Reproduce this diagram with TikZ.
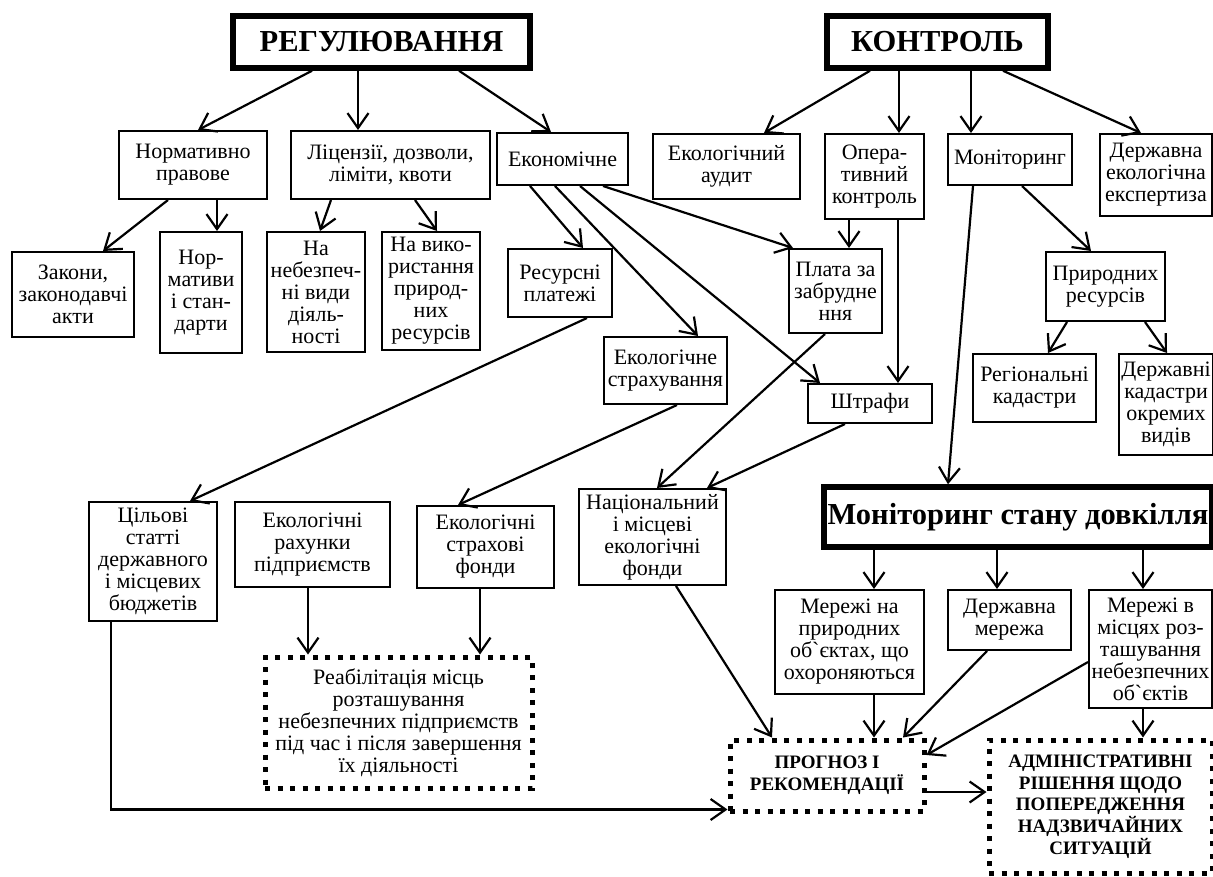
\documentclass[tikz,border=0pt]{standalone}
\usepackage{fontspec}
\setmainfont{Liberation Serif}
\usetikzlibrary{arrows.meta}
\newcommand{\boxfont}{\fontsize{22}{22}\selectfont}
\tikzset{
    box/.style={draw, line width=2pt, align=center, inner sep=2pt, font=\boxfont},
    titlebox/.style={draw, line width=5.5pt, align=center, inner sep=2pt, font=\fontsize{30.5}{32}\selectfont\bfseries},
    dotbox/.style={draw, line width=5pt, dash pattern=on 5pt off 7.5pt, align=center, inner sep=2pt, font=\boxfont},
    dotbold/.style={dotbox, font=\fontsize{19}{21.7}\selectfont\bfseries},
    arr/.style={line width=2.2pt, -{Straight Barb[length=15pt, width=21pt]}}
}

\begin{document}
\begin{tikzpicture}[x=1pt, y=-1pt]
    \useasboundingbox (0,0) rectangle (1213,876);

    % Main headings
    \node[titlebox, minimum width=297, minimum height=52] (reg) at (381.5,42) {РЕГУЛЮВАННЯ};
    \node[titlebox, minimum width=221, minimum height=52] (kontr) at (937.5,42) {КОНТРОЛЬ};

    % Second row
    \node[box, minimum width=148, minimum height=68] (norm) at (193,165) {Нормативно\\правове};
    \node[box, minimum width=199, minimum height=68] (lic) at (390.5,165) {Ліцензії, дозволи,\\ліміти, квоти};
    \node[box, minimum width=131, minimum height=52] (econ) at (562.5,159) {Економічне};
    \node[box, minimum width=147, minimum height=65] (audit) at (726.5,166.5) {Екологічний\\аудит};
    \node[box, minimum width=99, minimum height=85] (oper) at (874.5,176.5) {Опера-\\тивний\\контроль};
    \node[box, minimum width=124, minimum height=51] (monit) at (1010,159.5) {Моніторинг};
    \node[box, minimum width=112, minimum height=82] (expert) at (1156,175) {Державна\\екологічна\\експертиза};

    % Third row
    \node[box, minimum width=122, minimum height=85] (zakony) at (73,294.5) {Закони,\\законодавчі\\акти};
    \node[box, minimum width=82, minimum height=121] (normat) at (201,292.5) {Нор-\\мативи\\і стан-\\дарти};
    \node[box, minimum width=98, minimum height=120] (nebezp) at (316,292) {На\\небезпеч-\\ні види\\діяль-\\ності};
    \node[box, minimum width=98, minimum height=118] (vykor) at (431,291) {На вико-\\ристання\\природ-\\них\\ресурсів};
    \node[box, minimum width=104, minimum height=68] (resurs) at (560,283) {Ресурсні\\платежі};
    \node[box, minimum width=93, minimum height=84] (plata) at (835.5,291) {Плата за\\забрудне\\ння};
    \node[box, minimum width=119, minimum height=69] (pryrod) at (1105.5,286.5) {Природних\\ресурсів};
    \node[box, minimum width=123, minimum height=67] (strakh) at (665.5,370.5) {Екологічне\\страхування};
    \node[box, minimum width=124, minimum height=39] (shtraf) at (870,403.5) {Штрафи};
    \node[box, minimum width=123, minimum height=68] (region) at (1034.5,388) {Регіональні\\кадастри};
    \node[box, minimum width=92, minimum height=101] (kadastr) at (1166,404.5) {Державні\\кадастри\\окремих\\видів};

    % Funds
    \node[box, minimum width=128, minimum height=119] (tsil) at (153,561.5) {Цільові\\статті\\державного\\і місцевих\\бюджетів};
    \node[box, minimum width=155, minimum height=85] (rakh) at (312.5,544.5) {Екологічні\\рахунки\\підприємств};
    \node[box, minimum width=137, minimum height=82] (fondy) at (485.5,547) {Екологічні\\страхові\\фонди};
    \node[box, minimum width=147, minimum height=96] (nats) at (652.5,537) {Національний\\і місцеві\\екологічні\\фонди};

    % Monitoring of the environment
    \node[titlebox, minimum width=388, minimum height=60] (stan) at (1018,517) {Моніторинг стану довкілля};
    \node[box, minimum width=149, minimum height=104] (merprir) at (849.5,642) {Мережі на\\природних\\об\textasciigrave єктах, що\\охороняються};
    \node[box, minimum width=123, minimum height=60] (dermer) at (1009.5,620) {Державна\\мережа};
    \node[box, minimum width=123, minimum height=118] (mermisc) at (1150.5,649) {Мережі в\\місцях роз-\\ташування\\небезпечних\\об\textasciigrave єктів};

    % Results (dotted)
    \node[dotbox, minimum width=267, minimum height=131] (reabil) at (398.5,722.5) {Реабілітація місць\\розташування\\небезпечних підприємств\\під час і після завершення\\їх діяльності};
    \node[dotbold, minimum width=194, minimum height=71] (prognoz) at (827,775.5) {ПРОГНОЗ І\\РЕКОМЕНДАЦІЇ};
    \node[dotbold, minimum width=223, minimum height=133] (admin) at (1100.5,806.5) {АДМІНІСТРАТИВНІ\\РІШЕННЯ ЩОДО\\ПОПЕРЕДЖЕННЯ\\НАДЗВИЧАЙНИХ\\СИТУАЦІЙ};

    % Arrows from РЕГУЛЮВАННЯ
    \draw[arr] ([xshift=-69.5]reg.south) -- ([xshift=5]norm.north);
    \draw[arr] ([xshift=-23.5]reg.south) -- ([xshift=-32.5]lic.north);
    \draw[arr] ([xshift=77.5]reg.south) -- ([xshift=-11.5]econ.north);

    % Arrows from КОНТРОЛЬ
    \draw[arr] ([xshift=-67.5]kontr.south) -- ([xshift=37.5]audit.north);
    \draw[arr] ([xshift=-38.5]kontr.south) -- ([xshift=24.5]oper.north);
    \draw[arr] ([xshift=33.5]kontr.south) -- ([xshift=-39]monit.north);
    \draw[arr] ([xshift=65.5]kontr.south) -- ([xshift=-15]expert.north);

    % Legal and licences
    \draw[arr] ([xshift=-25]norm.south) -- ([xshift=30]zakony.north);
    \draw[arr] ([xshift=24]norm.south) -- ([xshift=16]normat.north);
    \draw[arr] ([xshift=-59.5]lic.south) -- ([xshift=4]nebezp.north);
    \draw[arr] ([xshift=24.5]lic.south) -- ([xshift=6]vykor.north);

    % Economic tools
    \draw[arr] ([xshift=-32.5]econ.south) -- ([xshift=23]resurs.north);
    \draw[arr] ([xshift=-7.5]econ.south) -- ([xshift=32.5]strakh.north);
    \draw[arr] ([xshift=17.5]econ.south) -- ([xshift=-50]shtraf.north);
    \draw[arr] ([xshift=40.5]econ.south) -- ([xshift=5]plata.north west);
    \draw[arr] ([xshift=-25.5]oper.south) -- ([xshift=13.5]plata.north);
    \draw[arr] ([xshift=23.5]oper.south) -- ([xshift=28]shtraf.north);

    % Monitoring branch
    \draw[arr] ([xshift=12]monit.south) -- ([xshift=-14.5]pryrod.north);
    \draw[arr] ([xshift=-37]monit.south) -- ([xshift=-70]stan.north);
    \draw[arr] ([xshift=-38.5]pryrod.south) -- ([xshift=13.5]region.north);
    \draw[arr] ([xshift=39.5]pryrod.south) -- ([xshift=1]kadastr.north);

    % Payments into funds
    \draw[arr] ([xshift=27]resurs.south) -- ([xshift=37]tsil.north);
    \draw[arr] ([xshift=11.5]strakh.south) -- ([xshift=-27.5]fondy.north);
    \draw[arr] ([xshift=-10.5]plata.south) -- ([xshift=4.5]nats.north);
    \draw[arr] ([xshift=-25]shtraf.south) -- ([xshift=54.5]nats.north);

    % Rehabilitation
    \draw[arr] ([xshift=-4.5]rakh.south) -- ([xshift=-90.5]reabil.north);
    \draw[arr] ([xshift=-5.5]fondy.south) -- ([xshift=81.5]reabil.north);

    % Into the forecast
    \draw[arr] ([xshift=-42]tsil.south) |- ([yshift=4]prognoz.south west);
    \draw[arr] ([xshift=23.5]nats.south) -- ([xshift=-55]prognoz.north);
    \draw[arr] ([xshift=-144]stan.south) -- ([xshift=24.5]merprir.north);
    \draw[arr] ([xshift=-21]stan.south) -- ([xshift=-12.5]dermer.north);
    \draw[arr] ([xshift=125]stan.south) -- ([xshift=-7.5]mermisc.north);
    \draw[arr] ([xshift=24.5]merprir.south) -- ([xshift=47]prognoz.north);
    \draw[arr] ([xshift=-22.5]dermer.south) -- ([xshift=76]prognoz.north);
    \draw[arr] ([yshift=-13]mermisc.west) -- ([yshift=20.5]prognoz.east);
    \draw[arr] ([xshift=-7.5]mermisc.south) -- ([xshift=42.5]admin.north);
    \draw[arr] ([yshift=-16.5]prognoz.east) -- ([yshift=-16.5]prognoz.east -| admin.west);
\end{tikzpicture}
\end{document}
